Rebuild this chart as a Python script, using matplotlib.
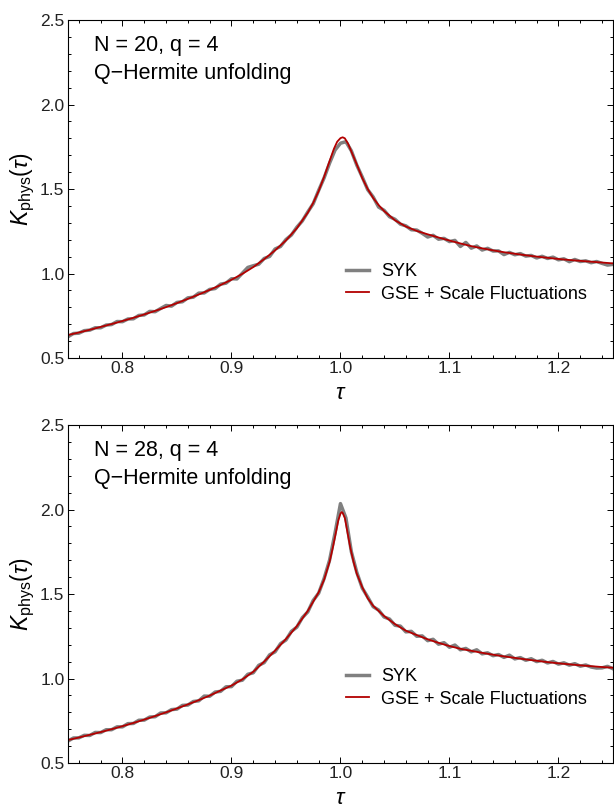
import matplotlib
matplotlib.use("Agg")
import matplotlib.pyplot as plt
from matplotlib.ticker import MultipleLocator
import numpy as np

plt.rcParams['font.family'] = ['Liberation Sans', 'DejaVu Sans']
plt.rcParams['mathtext.fontset'] = 'custom'
plt.rcParams['mathtext.rm'] = 'Liberation Sans'
plt.rcParams['mathtext.it'] = 'Liberation Sans:italic'

# gray SYK curves, tau = 0.750, 0.755, ..., 1.250
tau_syk = np.linspace(0.75, 1.25, 101)

syk_n20 = [0.626, 0.645, 0.647, 0.662, 0.665, 0.679, 0.679, 0.695, 0.698, 0.716,
           0.715, 0.731, 0.732, 0.752, 0.755, 0.776, 0.774, 0.793, 0.811, 0.807,
           0.829, 0.833, 0.856, 0.860, 0.884, 0.885, 0.906, 0.911, 0.937, 0.943,
           0.969, 0.968, 1.002, 1.036, 1.046, 1.055, 1.089, 1.101, 1.145, 1.160,
           1.201, 1.228, 1.274, 1.311, 1.364, 1.413, 1.492, 1.566, 1.653, 1.730,
           1.771, 1.780, 1.726, 1.641, 1.571, 1.496, 1.453, 1.393, 1.374, 1.336,
           1.321, 1.292, 1.282, 1.259, 1.257, 1.238, 1.216, 1.226, 1.203, 1.208,
           1.189, 1.196, 1.160, 1.184, 1.150, 1.163, 1.139, 1.149, 1.133, 1.134,
           1.112, 1.125, 1.111, 1.118, 1.103, 1.107, 1.092, 1.102, 1.089, 1.097,
           1.081, 1.087, 1.070, 1.083, 1.071, 1.075, 1.064, 1.071, 1.060, 1.050,
           1.054]

syk_n28 = [0.630, 0.648, 0.649, 0.664, 0.663, 0.681, 0.680, 0.697, 0.697, 0.714,
           0.714, 0.733, 0.734, 0.753, 0.754, 0.772, 0.774, 0.796, 0.797, 0.816,
           0.819, 0.841, 0.843, 0.864, 0.868, 0.896, 0.895, 0.920, 0.924, 0.951,
           0.952, 0.984, 0.990, 1.025, 1.034, 1.078, 1.094, 1.140, 1.158, 1.206,
           1.228, 1.279, 1.304, 1.360, 1.394, 1.462, 1.505, 1.592, 1.700, 1.860,
           2.035, 1.950, 1.750, 1.628, 1.535, 1.482, 1.425, 1.405, 1.364, 1.352,
           1.315, 1.310, 1.276, 1.279, 1.250, 1.252, 1.224, 1.232, 1.203, 1.212,
           1.185, 1.198, 1.170, 1.178, 1.158, 1.170, 1.146, 1.152, 1.135, 1.142,
           1.125, 1.138, 1.116, 1.124, 1.108, 1.117, 1.100, 1.108, 1.092, 1.101,
           1.085, 1.093, 1.079, 1.088, 1.073, 1.080, 1.068, 1.062, 1.063, 1.072,
           1.058]

# red GSE + scale fluctuation curves
tau_gse_n20 = [0.75, 0.76, 0.77, 0.78, 0.79, 0.80, 0.81, 0.82, 0.83, 0.84, 0.85,
               0.86, 0.87, 0.88, 0.89, 0.90, 0.91, 0.92, 0.93, 0.94, 0.95, 0.96,
               0.97, 0.975, 0.98, 0.985, 0.99, 0.994, 0.997, 1.000, 1.002, 1.004,
               1.007, 1.01, 1.015, 1.02, 1.025, 1.03, 1.035, 1.04, 1.05, 1.06,
               1.07, 1.08, 1.09, 1.10, 1.11, 1.12, 1.13, 1.14, 1.15, 1.16, 1.17,
               1.18, 1.19, 1.20, 1.21, 1.22, 1.23, 1.24, 1.25]
gse_n20 = [0.636, 0.651, 0.667, 0.684, 0.701, 0.719, 0.738, 0.758, 0.779, 0.801, 0.825,
           0.850, 0.876, 0.903, 0.932, 0.963, 0.998, 1.038, 1.085, 1.137, 1.196, 1.268,
           1.360, 1.418, 1.488, 1.572, 1.665, 1.738, 1.780, 1.801, 1.806, 1.800,
           1.768, 1.722, 1.645, 1.565, 1.500, 1.447, 1.405, 1.370, 1.315, 1.278,
           1.252, 1.232, 1.213, 1.195, 1.178, 1.162, 1.149, 1.137, 1.126, 1.117, 1.108,
           1.100, 1.093, 1.086, 1.080, 1.075, 1.070, 1.065, 1.060]

tau_gse_n28 = [0.75, 0.76, 0.77, 0.78, 0.79, 0.80, 0.81, 0.82, 0.83, 0.84, 0.85,
               0.86, 0.87, 0.88, 0.89, 0.90, 0.91, 0.92, 0.93, 0.94, 0.95, 0.96,
               0.97, 0.975, 0.98, 0.985, 0.99, 0.993, 0.996, 0.998, 1.000, 1.001,
               1.002, 1.004, 1.006, 1.009, 1.012, 1.015, 1.02, 1.025, 1.03, 1.04,
               1.05, 1.06, 1.07, 1.08, 1.09, 1.10, 1.11, 1.12, 1.13, 1.14, 1.15,
               1.16, 1.17, 1.18, 1.19, 1.20, 1.21, 1.22, 1.23, 1.24, 1.25]
gse_n28 = [0.636, 0.651, 0.667, 0.683, 0.700, 0.718, 0.737, 0.757, 0.778, 0.800, 0.823,
           0.847, 0.872, 0.899, 0.929, 0.958, 0.995, 1.040, 1.100, 1.165, 1.234, 1.310,
           1.400, 1.455, 1.510, 1.585, 1.690, 1.775, 1.870, 1.935, 1.975, 1.985,
           1.980, 1.950, 1.880, 1.775, 1.690, 1.620, 1.540, 1.475, 1.430, 1.370,
           1.322, 1.283, 1.257, 1.232, 1.211, 1.192, 1.176, 1.164, 1.152, 1.141, 1.131,
           1.122, 1.113, 1.105, 1.097, 1.090, 1.084, 1.078, 1.073, 1.068, 1.064]

panels = [("N = 20, q = 4", syk_n20, tau_gse_n20, gse_n20),
          ("N = 28, q = 4", syk_n28, tau_gse_n28, gse_n28)]

fig = plt.figure(figsize=(6.14, 8.10), dpi=100)
axes = [fig.add_axes([0.1107, 0.558, 0.8876, 0.4173]),
        fig.add_axes([0.1107, 0.058, 0.8876, 0.4173])]

for ax, (label, syk, tau_gse, gse) in zip(axes, panels):
    ax.plot(tau_syk, syk, color='#808080', lw=2.5, label='SYK', solid_joinstyle='round')
    ax.plot(tau_gse, gse, color='#b30000', lw=1.3, label='GSE + Scale Fluctuations')
    ax.set_xlim(0.75, 1.25)
    ax.set_ylim(0.5, 2.5)
    ax.xaxis.set_minor_locator(MultipleLocator(0.02))
    ax.yaxis.set_minor_locator(MultipleLocator(0.1))
    ax.set_xticks([0.8, 0.9, 1.0, 1.1, 1.2])
    ax.set_xticklabels(['0.8', '0.9', '1.0', '1.1', '1.2'])
    ax.set_yticks([0.5, 1.0, 1.5, 2.0, 2.5])
    ax.set_yticklabels(['0.5', '1.0', '1.5', '2.0', '2.5'])
    ax.tick_params(which='both', direction='in', top=True, right=True,
                   labelsize=12.5, labelcolor='#222222', width=0.7, pad=2.5)
    ax.tick_params(which='major', length=4)
    ax.tick_params(which='minor', length=2)
    for s in ax.spines.values():
        s.set_linewidth(0.8)
    ax.set_xlabel(r'$\tau$', fontsize=16, labelpad=5)
    ax.set_ylabel(r'$K_{\mathrm{phys}}(\tau)$', fontsize=16.5, labelpad=2)
    ax.text(0.048, 0.908, label, transform=ax.transAxes, fontsize=15.5, va='baseline')
    ax.text(0.048, 0.825, "Q\u2212Hermite unfolding", transform=ax.transAxes,
            fontsize=15.5, va='baseline')
    ax.legend(loc='center left', bbox_to_anchor=(0.51, 0.222), frameon=False,
              fontsize=13, handlelength=1.3, handletextpad=0.65,
              labelspacing=0.3, borderpad=0, borderaxespad=0)

fig.savefig('out.png', dpi=100)
